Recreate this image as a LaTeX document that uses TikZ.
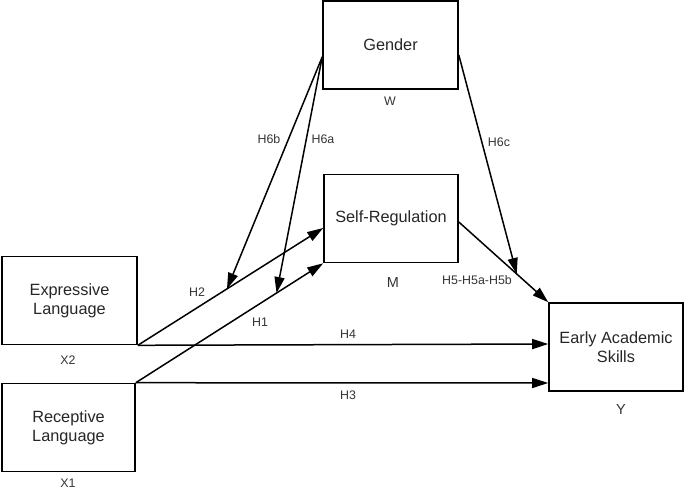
\documentclass[tikz,border=0pt]{standalone}
\usepackage{fontspec}
\setmainfont{Liberation Sans}
\usetikzlibrary{arrows.meta}
\begin{document}
\begin{tikzpicture}[x=1pt,y=-1pt,
  box/.style={draw=black,line width=1.6pt,minimum width=#1,minimum height=88pt,inner sep=0pt,align=center,font=\fontsize{16.3}{19}\selectfont,text=black!85},
  lbl/.style={font=\fontsize{12.4}{14}\selectfont,text=black!80,inner sep=0pt},
  conn/.style={line width=1.5pt,-{Triangle[length=16pt,width=10pt]}},
  plain/.style={line width=1.5pt}]
\useasboundingbox (0,0) rectangle (685,490);
\node[box=135pt] (gd) at (390.5,45) {Gender};
\node[box=134pt] (sr) at (391,218.5) {Self-Regulation};
\node[box=135pt] (ex) at (69.5,300.5) {Expressive\\Language};
\node[box=133pt] (rc) at (68.5,427.5) {Receptive\\Language};
\node[box=134pt] (ea) at (616,347) {Early Academic\\Skills};
% labels under boxes
\node[lbl] (w) at (390,101) {W};
\node[lbl,font=\fontsize{14.5}{16}\selectfont] (m) at (393,283) {M};
\node[lbl] (x2) at (68,360) {X2};
\node[lbl] (x1) at (68,483) {X1};
\node[lbl,font=\fontsize{14.5}{16}\selectfont] (y) at (621,410) {Y};
% main paths
\draw[conn] (ex.south east) -- ([yshift=-9.5pt]sr.west)
  coordinate[pos=0.481] (onh2);
\draw[conn] (rc.north east) -- (sr.south west)
  coordinate[pos=0.751] (onh1);
\draw[conn] (ex.south east) -- ([yshift=3pt]ea.west);
\draw[conn] (rc.north east) -- ([yshift=-36pt]ea.west);
\draw[conn] ([yshift=-3.5pt]sr.east) -- (ea.north west)
  coordinate[pos=0.648] (onh5);
% moderation paths
\draw[conn] ([yshift=-12pt]gd.west) -- (onh2);
\draw[conn] ([yshift=-12pt]gd.west) -- (onh1);
\draw[conn] ([yshift=-10pt]gd.east) -- (onh5);
% path labels
\node[lbl] (h6b) at (269,139) {H6b};
\node[lbl] (h6a) at (323,139) {H6a};
\node[lbl] (h6c) at (499,142) {H6c};
\node[lbl] (h2) at (197,292) {H2};
\node[lbl] (h1) at (260,322) {H1};
\node[lbl] (h4) at (348,334) {H4};
\node[lbl] (h3) at (348,395) {H3};
\node[lbl] (h5) at (477,280) {H5-H5a-H5b};
\end{tikzpicture}
\end{document}
